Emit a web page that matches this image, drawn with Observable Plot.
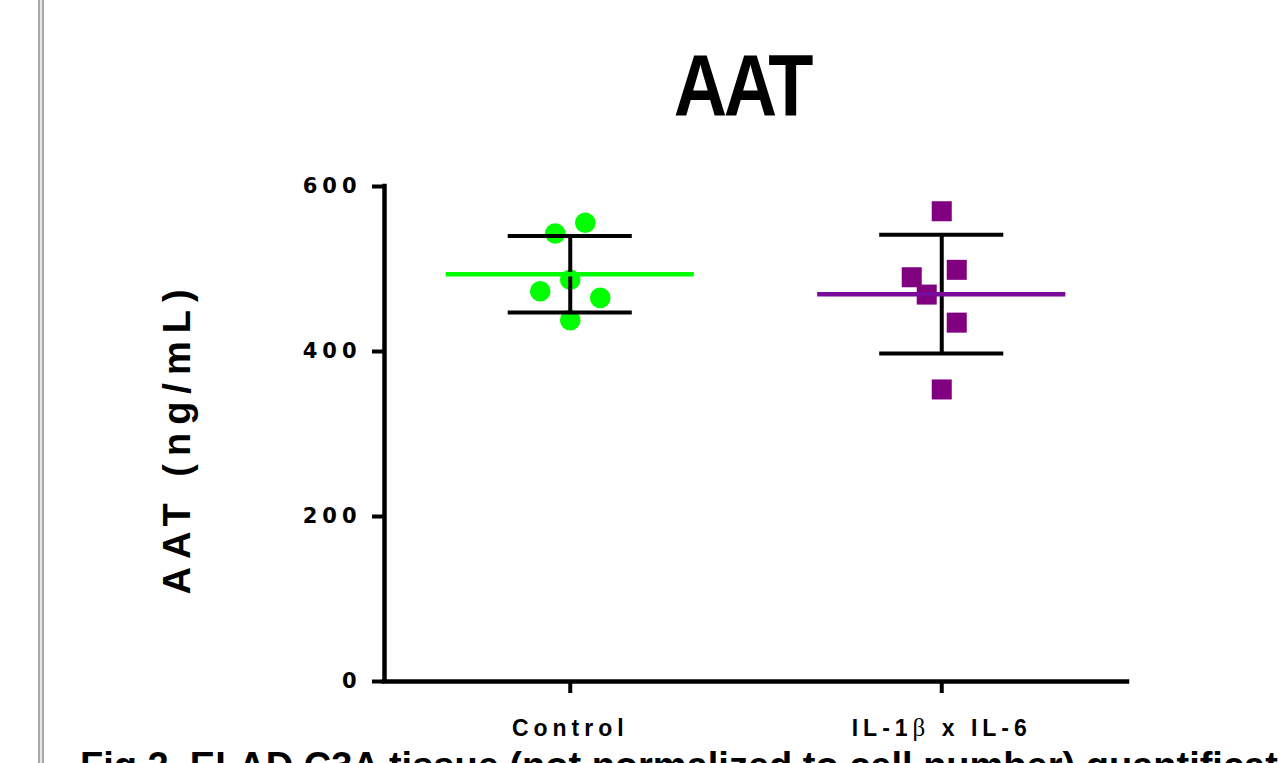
<!DOCTYPE html>
<html>
<head>
<meta charset="utf-8">
<script src="https://cdn.jsdelivr.net/npm/d3@7"></script>
<script src="https://cdn.jsdelivr.net/npm/@observablehq/plot@0.6"></script>
<style>
  html, body { margin: 0; padding: 0; width: 1280px; height: 763px; overflow: hidden; background: #fff; }
  #page { position: relative; width: 1280px; height: 763px; overflow: hidden; }
  #edge { position: absolute; left: 38px; top: 0; width: 2px; height: 763px;
          border-left: 2px solid #a9a9a9; border-right: 2px solid #a9a9a9; background: #e4e4e4; }
  #title { position: absolute; left: 742px; top: 41px; margin: 0; white-space: nowrap;
           font: bold 87px "Liberation Sans", Arial, sans-serif; line-height: 1; letter-spacing: -4px;
           transform: translateX(-50%) scaleX(0.85); transform-origin: center; color: #000; }
  #chart { position: absolute; left: 0; top: 140px; }
  #caption { position: absolute; left: 80px; top: 747px; white-space: nowrap;
             font: bold 38px "Liberation Sans", Arial, sans-serif; line-height: 1; color: #000; }
</style>
</head>
<body>
<div id="page">
  <div id="edge"></div>
  <div id="title"></div>
  <div id="chart"></div>
  <div id="caption"></div>
</div>
<script>
// ---- data ----
const title = "AAT";
const yLabel = "AAT (ng/mL)";
const caption = "Fig 2. ELAD C3A tissue (not normalized to cell number) quantification";
const groups = ["Control", "IL-1β x IL-6"];
const controlValues = [543, 556, 487, 473, 465, 438];
const ilValues = [570, 499, 490, 469, 435, 354];
// scatter column arrangement of the points within each group (slot index)
const controlSlots = [-1, 1, 0, -2, 2, 0];
const ilSlots = [0, 1, -2, -1, 1, 0];
const yTicks = [0, 200, 400, 600];

// ---- styling constants ----
const slotWidth = 0.0404;   // one slot, in group units
const meanHalf = 0.334;     // half length of the mean line
const capHalf = 0.167;      // half length of the SD caps
const controlColor = "#00ff00";
const ilColor = "#800080";
const ilMeanColor = "#7a0a9a";

document.getElementById("title").textContent = title;
document.getElementById("caption").textContent = caption;

const controlPts = controlValues.map((v, k) => ({g: 0, v, x: 0 + controlSlots[k] * slotWidth}));
const ilPts = ilValues.map((v, k) => ({g: 1, v, x: 1 + ilSlots[k] * slotWidth}));
const stats = [controlValues, ilValues].map((vals, i) => {
  const m = d3.mean(vals), s = d3.deviation(vals);
  return {i, mean: m, lo: m - s, hi: m + s};
});

const chart = Plot.plot({
  width: 1280,
  height: 621,
  marginTop: 46,
  marginBottom: 80,
  marginLeft: 384,
  marginRight: 153,
  x: {domain: [-0.5, 1.5]},
  y: {domain: [0, 600]},
  style: {background: "transparent", fontFamily: "'Liberation Sans', Arial, sans-serif", color: "#000"},
  marks: [
    Plot.dot(controlPts, {x: "x", y: "v", r: 10.3, fill: controlColor, stroke: "none"}),
    Plot.dot(ilPts, {x: "x", y: "v", symbol: "square", r: 11.3, fill: ilColor, stroke: "none"}),
    Plot.ruleX(stats, {x: "i", y1: "lo", y2: "hi", stroke: "#000", strokeWidth: 4}),
    Plot.ruleY(stats, {y: "lo", x1: d => d.i - capHalf, x2: d => d.i + capHalf, stroke: "#000", strokeWidth: 4}),
    Plot.ruleY(stats, {y: "hi", x1: d => d.i - capHalf, x2: d => d.i + capHalf, stroke: "#000", strokeWidth: 4}),
    Plot.ruleY(stats.filter(d => d.i === 0), {y: "mean", x1: d => d.i - meanHalf, x2: d => d.i + meanHalf, stroke: controlColor, strokeWidth: 4.5}),
    Plot.ruleY(stats.filter(d => d.i === 1), {y: "mean", x1: d => d.i - meanHalf, x2: d => d.i + meanHalf, stroke: ilMeanColor, strokeWidth: 4.5}),
    Plot.axisY({ticks: yTicks, tickSize: 12, tickPadding: 11, tickFormat: d => String(d),
                fontSize: 21, fontWeight: "bold", fontFamily: "DejaVu Sans", strokeWidth: 4, label: null}),
    Plot.axisX({ticks: [0, 1], tickFormat: i => groups[i], tickSize: 12, tickPadding: 26,
                fontSize: 23, fontWeight: "bold", strokeWidth: 4, label: null}),
    Plot.ruleY([0], {x1: -0.5, x2: 1.5, stroke: "#000", strokeWidth: 4.5, strokeLinecap: "square"}),
    Plot.ruleX([-0.5], {y1: 0, y2: 600, stroke: "#000", strokeWidth: 4.5, strokeLinecap: "square"}),
    Plot.text([yLabel], {text: d => d, frameAnchor: "left", rotate: -90, dx: -207, dy: 4,
                         textAnchor: "middle", lineAnchor: "middle", fontSize: 38, fontWeight: "bold"})
  ]
});

// letter spacing and the beta glyph, as in the original figure
chart.querySelectorAll("text").forEach(t => {
  const s = t.textContent;
  if (/^\d+$/.test(s)) t.setAttribute("letter-spacing", "5");
  else if (s === yLabel) t.setAttribute("letter-spacing", "8");
  else if (groups.includes(s)) {
    t.setAttribute("letter-spacing", "5");
    if (s.includes("β")) {
      const parts = s.split("β");
      t.textContent = "";
      const ns = "http://www.w3.org/2000/svg";
      const a = document.createElementNS(ns, "tspan"); a.textContent = parts[0];
      const b = document.createElementNS(ns, "tspan"); b.textContent = "β";
      b.setAttribute("font-family", "'Liberation Serif', 'DejaVu Serif', serif");
      b.setAttribute("font-weight", "normal");
      b.setAttribute("font-size", "25");
      const c = document.createElementNS(ns, "tspan"); c.textContent = parts[1];
      t.append(a, b, c);
    }
  }
});

document.getElementById("chart").appendChild(chart);
</script>
</body>
</html>
